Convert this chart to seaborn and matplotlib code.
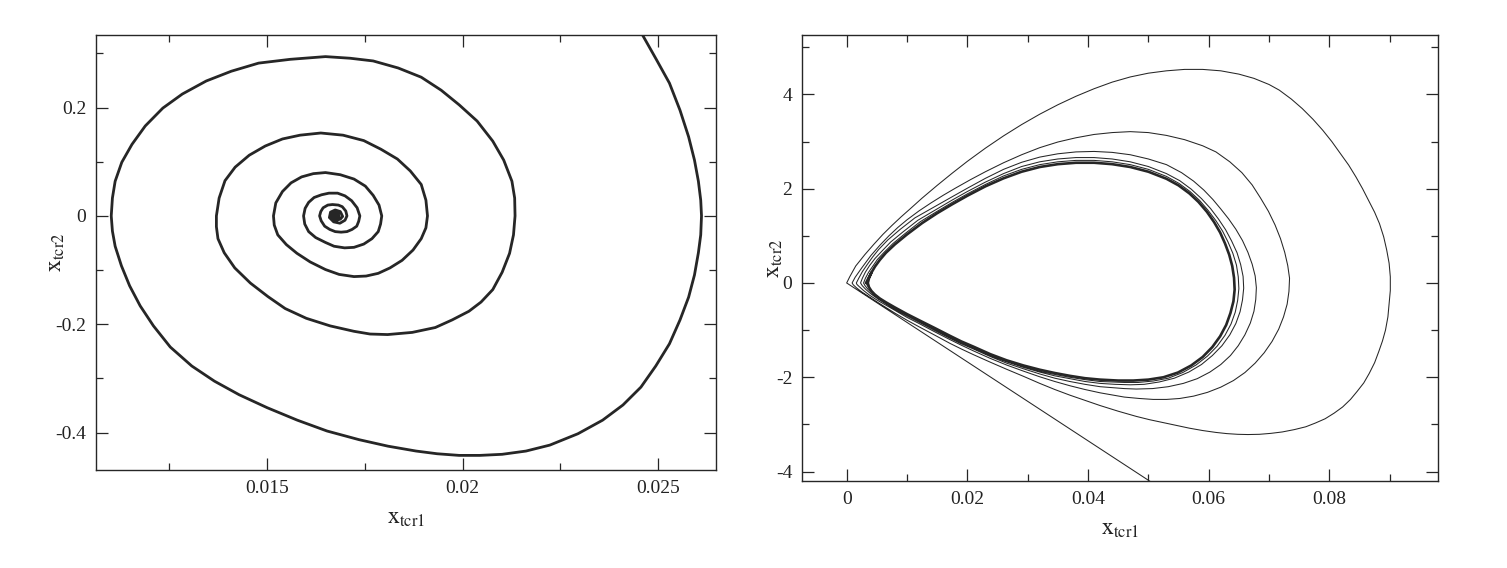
"""
Phase portraits x_tcr1 vs x_tcr2: damped spiral (left) and limit cycle (right).
"""

import pandas as pd
import seaborn as sns
import matplotlib

matplotlib.use("Agg")
import matplotlib.pyplot as plt
from matplotlib.ticker import FixedLocator, FixedFormatter

# ---- left panel: spiral into the stable focus, one list per turn ----
turn1_x = [0.02436, 0.02460, 0.02496, 0.02529, 0.02556, 0.02578, 0.02593, 0.02603, 0.02609, 0.02611,
           0.02609, 0.02603, 0.02593, 0.02578, 0.02556, 0.02529, 0.02494, 0.02456, 0.02410, 0.02358,
           0.02295, 0.02223, 0.02162, 0.02101, 0.02044, 0.01991, 0.01935, 0.01881, 0.01809, 0.01735,
           0.01653, 0.01577, 0.01500, 0.01428, 0.01365, 0.01307, 0.01252, 0.01209, 0.01175, 0.01148,
           0.01127, 0.01111, 0.01104, 0.01101, 0.01104, 0.01111, 0.01128, 0.01154, 0.01188, 0.01233,
           0.01283, 0.01344, 0.01408, 0.01478, 0.01559, 0.01649, 0.01712, 0.01771, 0.01835, 0.01894,
           0.01945, 0.01991, 0.02037, 0.02077, 0.02105, 0.02126, 0.02133, 0.02134]
turn1_y = [0.364, 0.334, 0.288, 0.245, 0.195, 0.146, 0.103, 0.064, 0.029, 0.0,
           -0.035, -0.068, -0.109, -0.150, -0.192, -0.236, -0.277, -0.316, -0.349, -0.377,
           -0.402, -0.423, -0.434, -0.440, -0.442, -0.442, -0.439, -0.434, -0.425, -0.413,
           -0.397, -0.377, -0.354, -0.330, -0.305, -0.277, -0.242, -0.203, -0.166, -0.129,
           -0.092, -0.056, -0.028, 0.0, 0.033, 0.064, 0.099, 0.132, 0.166, 0.199,
           0.225, 0.249, 0.267, 0.282, 0.289, 0.294, 0.291, 0.286, 0.273, 0.256,
           0.232, 0.205, 0.175, 0.138, 0.103, 0.064, 0.033, 0.0]

turn2_x = [0.02130, 0.02120, 0.02101, 0.02077, 0.02047, 0.02016, 0.01973, 0.01930, 0.01871, 0.01808,
           0.01763, 0.01722, 0.01661, 0.01600, 0.01546, 0.01502, 0.01457, 0.01417, 0.01390, 0.01374,
           0.01370, 0.01370, 0.01377, 0.01392, 0.01418, 0.01454, 0.01495, 0.01539, 0.01584, 0.01637,
           0.01694, 0.01747, 0.01791, 0.01833, 0.01866, 0.01894, 0.01906, 0.01910]
turn2_y = [-0.035, -0.069, -0.104, -0.136, -0.159, -0.176, -0.192, -0.206, -0.215, -0.219,
           -0.218, -0.213, -0.203, -0.189, -0.171, -0.149, -0.124, -0.096, -0.068, -0.042,
           -0.020, 0.0, 0.033, 0.065, 0.090, 0.112, 0.129, 0.142, 0.149, 0.153,
           0.149, 0.139, 0.123, 0.105, 0.083, 0.058, 0.029, 0.0]

turn3_x = [0.01906, 0.01894, 0.01873, 0.01845, 0.01814, 0.01784, 0.01753, 0.01722, 0.01684, 0.01649,
           0.01610, 0.01576, 0.01549, 0.01527, 0.01518, 0.01516, 0.01522, 0.01539, 0.01561, 0.01588,
           0.01618, 0.01649, 0.01687, 0.01722, 0.01751, 0.01771, 0.01786, 0.01793]
turn3_y = [-0.022, -0.042, -0.063, -0.082, -0.096, -0.106, -0.111, -0.112, -0.108, -0.099,
           -0.085, -0.069, -0.053, -0.035, -0.017, 0.0, 0.024, 0.045, 0.061, 0.072,
           0.078, 0.080, 0.076, 0.068, 0.055, 0.038, 0.020, 0.0]

turn4_x = [0.01790, 0.01784, 0.01768, 0.01747, 0.01722, 0.01698, 0.01671, 0.01649, 0.01624, 0.01606,
           0.01596, 0.01593, 0.01597, 0.01606, 0.01620, 0.01639, 0.01658, 0.01680, 0.01699, 0.01716,
           0.01730, 0.01737]
turn4_y = [-0.015, -0.029, -0.042, -0.052, -0.058, -0.059, -0.056, -0.049, -0.040, -0.029,
           -0.015, 0.0, 0.014, 0.025, 0.034, 0.039, 0.042, 0.042, 0.037, 0.028,
           0.015, 0.0]

turn5_x = [0.01734, 0.01729, 0.01717, 0.01704, 0.01689, 0.01674, 0.01660, 0.01647, 0.01638, 0.01634,
           0.01637, 0.01643, 0.01655, 0.01667, 0.01682, 0.01692, 0.01701, 0.01704]
turn5_y = [-0.010, -0.019, -0.025, -0.029, -0.030, -0.029, -0.025, -0.019, -0.009, 0.0,
           0.008, 0.015, 0.020, 0.021, 0.020, 0.017, 0.009, 0.0]

core_x = [0.01699, 0.01686, 0.01670, 0.01659, 0.01662, 0.01674, 0.01687, 0.01693, 0.01687, 0.01676,
          0.01667, 0.01664, 0.01667, 0.01675, 0.01682, 0.01684, 0.01676, 0.01669, 0.01675, 0.01679,
          0.01675]
core_y = [-0.008, -0.0135, -0.011, -0.003, 0.007, 0.011, 0.008, -0.001, -0.006, -0.008,
          -0.006, -0.001, 0.004, 0.006, 0.004, -0.001, -0.005, -0.001, 0.003, 0.0,
          -0.001]

# ---- right panel: trajectory winding onto the limit cycle ----
entry_x = [0.0515, 0.0]
entry_y = [-4.31, 0.0]

loop1_x = [0.0000, 0.0005, 0.0015, 0.0030, 0.0045, 0.0060, 0.0075, 0.0090, 0.0105, 0.0125,
           0.0150, 0.0175, 0.0200, 0.0230, 0.0260, 0.0290, 0.0320, 0.0350, 0.0380, 0.0410,
           0.0440, 0.0470, 0.0500, 0.0530, 0.0560, 0.0590, 0.0620, 0.0650, 0.0675, 0.0700,
           0.0717, 0.0737, 0.0755, 0.0773, 0.0789, 0.0804, 0.0818, 0.0832, 0.0844, 0.0855,
           0.0865, 0.0875, 0.0883, 0.0890, 0.0895, 0.0899, 0.0901, 0.0901, 0.0899, 0.0897,
           0.0893, 0.0888, 0.0882, 0.0875, 0.0866, 0.0857, 0.0846, 0.0835, 0.0822, 0.0808,
           0.0793, 0.0777, 0.0761,
           0.0742, 0.0722, 0.0703, 0.0684, 0.0665, 0.0648, 0.0630, 0.0612, 0.0590, 0.0568,
           0.0546, 0.0524, 0.0502, 0.0480, 0.0450, 0.0420, 0.0395, 0.0370, 0.0345, 0.0320,
           0.0293, 0.0265, 0.0238, 0.0210, 0.0190, 0.0171, 0.0145, 0.0120, 0.0100, 0.0080,
           0.0065, 0.0050, 0.0037, 0.0025, 0.0016, 0.0011, 0.0009]
loop1_y = [0.00, 0.13, 0.36, 0.60, 0.82, 1.03, 1.22, 1.40, 1.57, 1.80,
           2.07, 2.33, 2.58, 2.86, 3.12, 3.36, 3.58, 3.78, 3.96, 4.12,
           4.26, 4.37, 4.45, 4.50, 4.53, 4.53, 4.50, 4.43, 4.34, 4.21,
           4.09, 3.90, 3.70, 3.47, 3.24, 3.00, 2.75, 2.50, 2.25, 2.00,
           1.75, 1.50, 1.26, 0.98, 0.70, 0.42, 0.13, -0.16, -0.45, -0.72,
           -1.00, -1.23, -1.45, -1.69, -1.92, -2.12, -2.30, -2.47, -2.63, -2.76,
           -2.88, -2.97, -3.05,
           -3.11, -3.16, -3.19, -3.21, -3.215, -3.21, -3.195, -3.17, -3.13, -3.08,
           -3.02, -2.96, -2.90, -2.83, -2.72, -2.60, -2.49, -2.38, -2.26, -2.13,
           -1.98, -1.83, -1.68, -1.52, -1.40, -1.28, -1.10, -0.93, -0.79, -0.64,
           -0.52, -0.40, -0.29, -0.19, -0.10, -0.04, 0.00]

loop2_x = [0.0009, 0.0014, 0.0025, 0.0040, 0.0055, 0.0070, 0.0085, 0.0100, 0.0120, 0.0140,
           0.0160, 0.0180, 0.0205, 0.0230, 0.0260, 0.0290, 0.0320, 0.0350, 0.0380, 0.0410,
           0.0440, 0.0470, 0.0500, 0.0530, 0.0560, 0.0590, 0.0612,
           0.0635, 0.0655, 0.0672, 0.0686, 0.0699, 0.0710, 0.0719, 0.0726, 0.0731, 0.0734,
           0.0733, 0.0730, 0.0724, 0.0716, 0.0705, 0.0692, 0.0677, 0.0660, 0.0641, 0.0620,
           0.0598, 0.0575, 0.0552, 0.0530, 0.0508, 0.0485,
           0.0460, 0.0420, 0.0395, 0.0370, 0.0345, 0.0320, 0.0293, 0.0265, 0.0238, 0.0210,
           0.0190, 0.0171, 0.0145, 0.0120, 0.0100, 0.0080, 0.0065, 0.0050, 0.0038, 0.0028,
           0.0021, 0.0017, 0.0016]
loop2_y = [0.00, 0.12, 0.32, 0.58, 0.80, 1.00, 1.18, 1.34, 1.53, 1.70,
           1.86, 2.01, 2.19, 2.36, 2.55, 2.72, 2.87, 2.99, 3.08, 3.15,
           3.19, 3.21, 3.19, 3.13, 3.04, 2.91, 2.78,
           2.57, 2.34, 2.08, 1.80, 1.52, 1.23, 0.94, 0.65, 0.37, 0.10,
           -0.18, -0.45, -0.72, -0.98, -1.24, -1.48, -1.70, -1.90, -2.07, -2.21,
           -2.32, -2.40, -2.45, -2.47, -2.47, -2.45,
           -2.42, -2.33, -2.26, -2.18, -2.09, -1.99, -1.87, -1.74, -1.60, -1.44,
           -1.32, -1.20, -1.03, -0.86, -0.73, -0.58, -0.47, -0.36, -0.26, -0.16,
           -0.08, -0.03, 0.00]

loop3_x = [0.0016, 0.0020, 0.0026, 0.0034, 0.0043, 0.0053, 0.0068, 0.0088, 0.0113, 0.0150,
           0.0175, 0.0200, 0.0230, 0.0260, 0.0290, 0.0320, 0.0350, 0.0380, 0.0410, 0.0440,
           0.0470, 0.0500, 0.0530,
           0.0555, 0.0575, 0.0592, 0.0607, 0.0620, 0.0633, 0.0645, 0.0656, 0.0665, 0.0672,
           0.0677, 0.0679, 0.0678, 0.0675, 0.0669, 0.0660, 0.0649, 0.0636, 0.0620, 0.0602,
           0.0581, 0.0558, 0.0533, 0.0507, 0.0480,
           0.0460, 0.0420, 0.0395, 0.0370, 0.0345, 0.0320, 0.0293, 0.0265, 0.0238, 0.0210,
           0.0190, 0.0171, 0.0145, 0.0120, 0.0100, 0.0080, 0.0065, 0.0052, 0.0041, 0.0032,
           0.0026, 0.0023]
loop3_y = [0.00, 0.10, 0.24, 0.39, 0.55, 0.71, 0.91, 1.13, 1.38, 1.65,
           1.83, 2.01, 2.22, 2.41, 2.56, 2.67, 2.74, 2.78, 2.79, 2.77,
           2.72, 2.63, 2.51,
           2.34, 2.16, 1.97, 1.77, 1.57, 1.36, 1.14, 0.90, 0.65, 0.40,
           0.15, -0.10, -0.35, -0.60, -0.85, -1.10, -1.33, -1.54, -1.73, -1.89,
           -2.03, -2.13, -2.20, -2.24, -2.25,
           -2.24, -2.20, -2.15, -2.09, -2.02, -1.93, -1.82, -1.70, -1.56, -1.40,
           -1.29, -1.17, -1.00, -0.83, -0.70, -0.56, -0.44, -0.34, -0.24, -0.14,
           -0.06, 0.00]

loop4_x = [0.0023, 0.0026, 0.0031, 0.0038, 0.0047, 0.0058, 0.0073, 0.0093, 0.0118, 0.0150,
           0.0175, 0.0200, 0.0230, 0.0260, 0.0290, 0.0320, 0.0350, 0.0380, 0.0410, 0.0440,
           0.0470, 0.0500, 0.0530,
           0.0552, 0.0571, 0.0588, 0.0603, 0.0616, 0.0628, 0.0638, 0.0647, 0.0653, 0.0657,
           0.0658, 0.0656, 0.0652, 0.0645, 0.0635, 0.0622, 0.0606, 0.0588, 0.0567, 0.0543,
           0.0518, 0.0493, 0.0470,
           0.0445, 0.0420, 0.0395, 0.0370, 0.0345, 0.0320, 0.0293, 0.0265, 0.0238, 0.0210,
           0.0190, 0.0171, 0.0145, 0.0120, 0.0100, 0.0080, 0.0065, 0.0053, 0.0043, 0.0035,
           0.0030, 0.0028]
loop4_y = [0.00, 0.10, 0.23, 0.37, 0.52, 0.67, 0.87, 1.08, 1.33, 1.57,
           1.76, 1.94, 2.14, 2.32, 2.47, 2.57, 2.63, 2.66, 2.66, 2.63,
           2.57, 2.47, 2.32,
           2.17, 1.99, 1.79, 1.58, 1.36, 1.13, 0.89, 0.64, 0.39, 0.14,
           -0.11, -0.36, -0.61, -0.86, -1.10, -1.33, -1.54, -1.73, -1.89, -2.02,
           -2.10, -2.15, -2.16,
           -2.15, -2.13, -2.09, -2.03, -1.97, -1.89, -1.79, -1.67, -1.54, -1.38,
           -1.27, -1.15, -0.98, -0.81, -0.68, -0.54, -0.43, -0.33, -0.23, -0.13,
           -0.05, 0.00]

loop5_x = [0.0028, 0.0031, 0.0036, 0.0043, 0.0051, 0.0062, 0.0077, 0.0097, 0.0122, 0.0150,
           0.0175, 0.0200, 0.0230, 0.0260, 0.0290, 0.0320, 0.0350, 0.0380, 0.0410, 0.0440,
           0.0470, 0.0500, 0.0530,
           0.0551, 0.0569, 0.0585, 0.0599, 0.0612, 0.0623, 0.0632, 0.0640, 0.0646, 0.0649,
           0.0650, 0.0648, 0.0644, 0.0637, 0.0627, 0.0614, 0.0598, 0.0579, 0.0557, 0.0533,
           0.0508, 0.0483, 0.0460,
           0.0420, 0.0395, 0.0370, 0.0345, 0.0320, 0.0293, 0.0265, 0.0238, 0.0210, 0.0190,
           0.0171, 0.0145, 0.0120, 0.0100, 0.0080, 0.0065, 0.0054, 0.0045, 0.0038, 0.0034,
           0.0032]
loop5_y = [0.00, 0.10, 0.22, 0.35, 0.50, 0.65, 0.84, 1.05, 1.30, 1.52,
           1.71, 1.89, 2.09, 2.27, 2.41, 2.51, 2.57, 2.60, 2.60, 2.57,
           2.51, 2.41, 2.26,
           2.11, 1.94, 1.75, 1.54, 1.32, 1.10, 0.87, 0.63, 0.38, 0.13,
           -0.12, -0.37, -0.62, -0.87, -1.11, -1.34, -1.55, -1.74, -1.90, -2.02,
           -2.08, -2.11, -2.11,
           -2.09, -2.05, -2.00, -1.94, -1.87, -1.77, -1.66, -1.52, -1.37, -1.26,
           -1.14, -0.97, -0.80, -0.67, -0.53, -0.42, -0.32, -0.22, -0.12, -0.05,
           0.00]

cycle_x = [0.0032, 0.0036, 0.0041, 0.0047, 0.0055, 0.0065, 0.0080, 0.0100, 0.0125, 0.0150,
           0.0175, 0.0200, 0.0230, 0.0260, 0.0290, 0.0320, 0.0350, 0.0380, 0.0410, 0.0440,
           0.0470, 0.0500, 0.0530,
           0.0550, 0.0568, 0.0583, 0.0597, 0.0609, 0.0619, 0.0627, 0.0634, 0.0639, 0.0642,
           0.0643, 0.0641, 0.0636, 0.0629, 0.0619, 0.0606, 0.0590, 0.0571, 0.0549, 0.0525,
           0.0500, 0.0475, 0.0450,
           0.0420, 0.0395, 0.0370, 0.0345, 0.0320, 0.0293, 0.0265, 0.0238, 0.0210, 0.0190,
           0.0171, 0.0145, 0.0120, 0.0100, 0.0080, 0.0065, 0.0055, 0.0047, 0.0041, 0.0037,
           0.0035, 0.0037, 0.0041]
cycle_y = [0.00, 0.10, 0.22, 0.35, 0.49, 0.64, 0.82, 1.03, 1.27, 1.48,
           1.67, 1.85, 2.05, 2.22, 2.36, 2.46, 2.52, 2.55, 2.55, 2.52,
           2.46, 2.36, 2.21,
           2.07, 1.90, 1.72, 1.51, 1.29, 1.07, 0.84, 0.60, 0.36, 0.11,
           -0.14, -0.39, -0.64, -0.89, -1.13, -1.36, -1.57, -1.75, -1.90, -2.00,
           -2.05, -2.07, -2.07,
           -2.05, -2.02, -1.97, -1.91, -1.84, -1.75, -1.64, -1.51, -1.35, -1.24,
           -1.12, -0.95, -0.79, -0.66, -0.52, -0.41, -0.33, -0.25, -0.17, -0.09,
           0.00, 0.10, 0.22]

# ticks / labels
left_xticks = [0.015, 0.02, 0.025]
left_xlabels = ["0.015", "0.02", "0.025"]
left_xminor = [0.0125, 0.0175, 0.0225]
left_yticks = [0.2, 0.0, -0.2, -0.4]
left_ylabels = ["0.2", "0", "-0.2", "-0.4"]
left_yminor = [0.3, 0.1, -0.1, -0.3]

right_xticks = [0.0, 0.02, 0.04, 0.06, 0.08]
right_xlabels = ["0", "0.02", "0.04", "0.06", "0.08"]
right_xminor = [0.01, 0.03, 0.05, 0.07, 0.09]
right_yticks = [4, 2, 0, -2, -4]
right_ylabels = ["4", "2", "0", "-2", "-4"]
right_yminor = [5, 3, 1, -1, -3]

sns.set_style("ticks")
plt.rcParams["font.family"] = ["Liberation Serif", "DejaVu Serif"]
plt.rcParams["mathtext.fontset"] = "stix"

INK = "#262626"

fig = plt.figure(figsize=(15.07, 5.68), dpi=100)
ax1 = fig.add_axes([0.0637, 0.1725, 0.4114, 0.7658])
ax2 = fig.add_axes([0.5322, 0.1532, 0.4220, 0.7852])


def trace(ax, xs, ys, lw):
    df = pd.DataFrame({"x": xs, "y": ys})
    sns.lineplot(data=df, x="x", y="y", sort=False, estimator=None,
                 color=INK, linewidth=lw, ax=ax, solid_joinstyle="round")


# left: one continuous trajectory
spiral_x = turn1_x + turn2_x + turn3_x + turn4_x + turn5_x + core_x
spiral_y = turn1_y + turn2_y + turn3_y + turn4_y + turn5_y + core_y
trace(ax1, spiral_x, spiral_y, 2.0)

# right: entry segment, transient loops, then the attracting cycle
traj_x = entry_x + loop1_x + loop2_x + loop3_x + loop4_x + loop5_x
traj_y = entry_y + loop1_y + loop2_y + loop3_y + loop4_y + loop5_y
trace(ax2, traj_x, traj_y, 0.75)
trace(ax2, cycle_x, cycle_y, 1.9)


def style(ax, xlim, ylim, xt, xl, xm, yt, yl, ym, ylab_x):
    ax.set_xlim(*xlim)
    ax.set_ylim(*ylim)
    ax.xaxis.set_major_locator(FixedLocator(xt))
    ax.xaxis.set_major_formatter(FixedFormatter(xl))
    ax.xaxis.set_minor_locator(FixedLocator(xm))
    ax.yaxis.set_major_locator(FixedLocator(yt))
    ax.yaxis.set_major_formatter(FixedFormatter(yl))
    ax.yaxis.set_minor_locator(FixedLocator(ym))
    ax.tick_params(which="both", direction="in", top=True, right=True,
                   color=INK, width=0.9, labelsize=14, labelcolor="#222222")
    ax.tick_params(which="major", length=8.5, pad=7)
    ax.tick_params(which="minor", length=4.8)
    for s in ax.spines.values():
        s.set_visible(True)
        s.set_linewidth(1.0)
        s.set_color(INK)
    ax.set_xlabel(r"$\mathrm{x_{tcr1}}$", fontsize=17, color="#222222", labelpad=8)
    ax.set_ylabel(r"$\mathrm{x_{tcr2}}$", fontsize=17, color="#222222")
    # the label sits close to the axis, between the tick labels
    ax.yaxis.set_label_coords(ylab_x, 0.5)


style(ax1, (0.01062, 0.02648), (-0.469, 0.3338),
      left_xticks, left_xlabels, left_xminor,
      left_yticks, left_ylabels, left_yminor, -0.047)
style(ax2, (-0.0074, 0.098), (-4.2, 5.26),
      right_xticks, right_xlabels, right_xminor,
      right_yticks, right_ylabels, right_yminor, -0.027)

fig.savefig("out.png", dpi=100, facecolor="white")
plt.close(fig)
